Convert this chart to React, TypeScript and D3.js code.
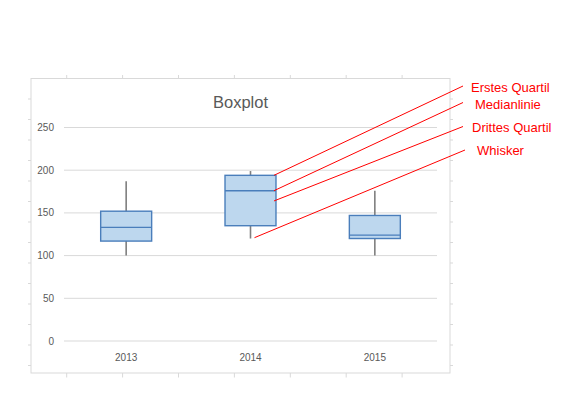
import React from 'react';
import * as d3 from 'd3';

// Daten
const years = ['2013', '2014', '2015'];
const minValues = [100, 120, 100];
const q1Values = [117, 135, 120];
const medianValues = [133, 176, 124];
const q3Values = [152, 194, 147];
const maxValues = [187, 199, 176];
const yTicks = [0, 50, 100, 150, 200, 250];

// Beschriftungen (zeigen alle auf 2014)
const noteLabels = ['Erstes Quartil', 'Medianlinie', 'Drittes Quartil', 'Whisker'];
const noteValues = [194, 176, 164, 121];

const W = 582;
const H = 407;

const App: React.FC = () => {
    const frame = {x0: 31, y0: 78.5, x1: 450, y1: 373};

    const x = d3.scaleBand<string>()
        .domain(years)
        .range([64, 437]);

    const y = d3.scaleLinear()
        .domain([0, 250])
        .range([341, 127.5]);

    const boxW = x.bandwidth() * 0.41;

    // kleine Striche außen am Rahmen
    const hTicks = d3.range(7).map(i => 66.7 + i * 55.9);
    const vTicks = d3.range(1, 15).map(i => frame.y0 + i * 20.5);

    const target = years.indexOf('2014');
    const tc = x(years[target])! + x.bandwidth() / 2;
    const noteStartX = [tc + boxW / 2 - 2, tc + boxW / 2 - 2, tc + boxW / 2 - 2, tc + 4];
    const noteEnd = [
        {x: 463, y: 86, tx: 471, ty: 91.5},
        {x: 463, y: 102.5, tx: 475, ty: 108.5},
        {x: 463, y: 126.5, tx: 472, ty: 131.5},
        {x: 465, y: 150, tx: 477, ty: 154.5},
    ];

    const font = '"Liberation Sans", Arial, sans-serif';

    return (
        <svg width={W} height={H} style={{position: 'absolute', left: 0, top: 0}} fontFamily={font}>
            <rect x={0} y={0} width={W} height={H} fill="#fff"/>
            {/* Rahmen */}
            <rect x={frame.x0} y={frame.y0} width={frame.x1 - frame.x0} height={frame.y1 - frame.y0}
                  fill="#fff" stroke="#d9d9d9" strokeWidth={1}/>
            {hTicks.map((t, i) => (
                <g key={'h' + i} stroke="#d9d9d9">
                    <line x1={t} x2={t} y1={frame.y0 - 3.5} y2={frame.y0}/>
                    <line x1={t} x2={t} y1={frame.y1} y2={frame.y1 + 4.5}/>
                </g>
            ))}
            {vTicks.map((t, i) => (
                <g key={'v' + i} stroke="#d9d9d9">
                    <line x1={frame.x0 - 3} x2={frame.x0} y1={t} y2={t}/>
                    <line x1={frame.x1} x2={frame.x1 + 3} y1={t} y2={t}/>
                </g>
            ))}

            <text x={(frame.x0 + frame.x1) / 2} y={107.5} textAnchor="middle" fontSize={16.5} fill="#595959">
                Boxplot
            </text>

            {/* Gitternetz + Y-Achse */}
            {yTicks.map(t => (
                <g key={t}>
                    <line x1={64} x2={437} y1={y(t)} y2={y(t)} stroke="#d9d9d9" strokeWidth={1}/>
                    <text x={54} y={y(t)} dy="0.35em" textAnchor="end" fontSize={10} fill="#595959">{t}</text>
                </g>
            ))}

            {years.map(yr => (
                <text key={yr} x={x(yr)! + x.bandwidth() / 2} y={360.5} textAnchor="middle"
                      fontSize={10} fill="#595959">{yr}</text>
            ))}

            {/* Boxen */}
            {years.map((yr, i) => {
                const cx = x(yr)! + x.bandwidth() / 2;
                return (
                    <g key={'b' + yr}>
                        <line x1={cx} x2={cx} y1={y(maxValues[i])} y2={y(minValues[i])}
                              stroke="#7f7f7f" strokeWidth={1.6}/>
                        <rect x={cx - boxW / 2} y={y(q3Values[i])} width={boxW}
                              height={y(q1Values[i]) - y(q3Values[i])}
                              fill="#bdd7ee" stroke="#4a7ebb" strokeWidth={1.4}/>
                        <line x1={cx - boxW / 2} x2={cx + boxW / 2} y1={y(medianValues[i])} y2={y(medianValues[i])}
                              stroke="#4a7ebb" strokeWidth={1.4}/>
                    </g>
                );
            })}

            {/* Anmerkungen */}
            {noteLabels.map((lbl, i) => (
                <g key={lbl}>
                    <line x1={noteStartX[i]} y1={y(noteValues[i])} x2={noteEnd[i].x} y2={noteEnd[i].y}
                          stroke="#ff0000" strokeWidth={1}/>
                    <text x={noteEnd[i].tx} y={noteEnd[i].ty} fontSize={13} fill="#ff0000">{lbl}</text>
                </g>
            ))}
        </svg>
    );
};

export default App;
